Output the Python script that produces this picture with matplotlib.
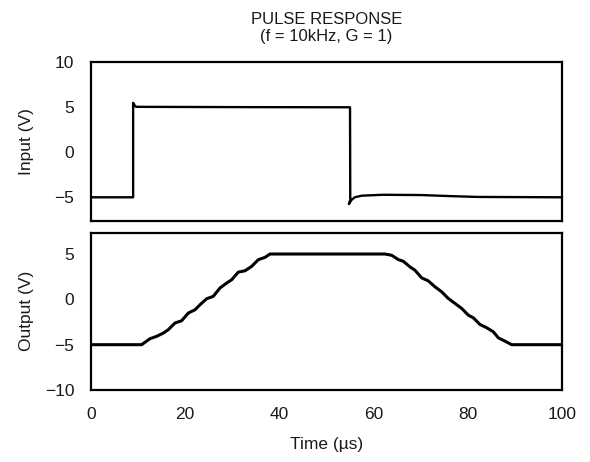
import matplotlib
matplotlib.use("Agg")
import matplotlib.pyplot as plt

plt.rcParams['font.family'] = ['Liberation Sans', 'DejaVu Sans']

# Input pulse (time in µs, volts)
input_time = [0.0, 8.95, 8.95, 9.4, 9.8, 30.0, 55.0, 55.05, 54.75, 55.3, 56.0, 57.5,
              62.0, 70.0, 77.0, 82.0, 100.0]
input_volts = [-5.0, -5.0, 5.5, 5.1, 5.05, 5.02, 5.0, -5.3, -5.75, -5.3, -5.0, -4.82,
               -4.72, -4.75, -4.88, -4.96, -5.0]

# Output response (time in µs, volts)
output_time = [0.0, 10.76, 12.53, 13.95, 15.35, 16.41, 17.83, 19.25, 20.66, 22.08,
               23.14, 24.56, 25.96, 27.39, 28.81, 29.87, 31.27, 32.70, 34.12, 35.52,
               36.94, 38.0, 62.42, 63.84, 65.24, 66.30, 67.73, 68.79, 70.21, 71.61,
               73.04, 74.46, 75.86, 77.28, 78.71, 80.11, 81.17, 82.59, 84.01, 85.41,
               86.48, 87.90, 89.32, 100.0]
output_volts = [-5.0, -5.0, -4.34, -4.08, -3.72, -3.35, -2.61, -2.36, -1.51, -1.15,
                -0.60, 0.07, 0.33, 1.25, 1.80, 2.16, 3.00, 3.15, 3.64, 4.37,
                4.63, 5.0, 5.0, 4.86, 4.39, 4.20, 3.58, 3.21, 2.37, 2.04,
                1.38, 0.83, 0.10, -0.45, -1.00, -1.74, -2.03, -2.77, -3.13, -3.57,
                -4.24, -4.61, -5.0, -5.0]

x_ticks = [0, 20, 40, 60, 80, 100]
input_ticks = [-5, 0, 5, 10]
output_ticks = [-10, -5, 0, 5]

fig = plt.figure(figsize=(5.9, 4.62), dpi=100)
ax1 = fig.add_axes([0.1542, 0.5223, 0.7983, 0.3429])
ax2 = fig.add_axes([0.1542, 0.1558, 0.7983, 0.3405])

ax1.plot(input_time, input_volts, color='black', lw=1.7)
ax2.plot(output_time, output_volts, color='black', lw=2.2)

ax1.set_xlim(0, 100)
ax2.set_xlim(0, 100)
ax1.set_ylim(-7.6, 10)
ax2.set_ylim(-10, 7.35)
ax1.set_yticks(input_ticks)
ax2.set_yticks(output_ticks)
ax1.set_xticks([])
ax2.set_xticks(x_ticks)

txt = '#1a1a1a'
fs = 12.5
for ax in (ax1, ax2):
    for s in ax.spines.values():
        s.set_linewidth(1.6)
        s.set_color('black')
    ax.tick_params(length=0, labelsize=fs, pad=12, colors=txt)
ax2.tick_params(axis='x', pad=12)

ax1.set_ylabel('Input (V)', fontsize=fs, color=txt)
ax2.set_ylabel('Output (V)', fontsize=fs, color=txt)
ax1.yaxis.set_label_coords(-0.12, 0.5)
ax2.yaxis.set_label_coords(-0.12, 0.5)
ax2.set_xlabel('Time (µs)', fontsize=fs, color=txt, labelpad=11)
ax1.set_title('PULSE RESPONSE\n(f = 10kHz, G = 1)', fontsize=12, color=txt,
              pad=15, linespacing=1.2)

fig.savefig('out.png', dpi=100)
